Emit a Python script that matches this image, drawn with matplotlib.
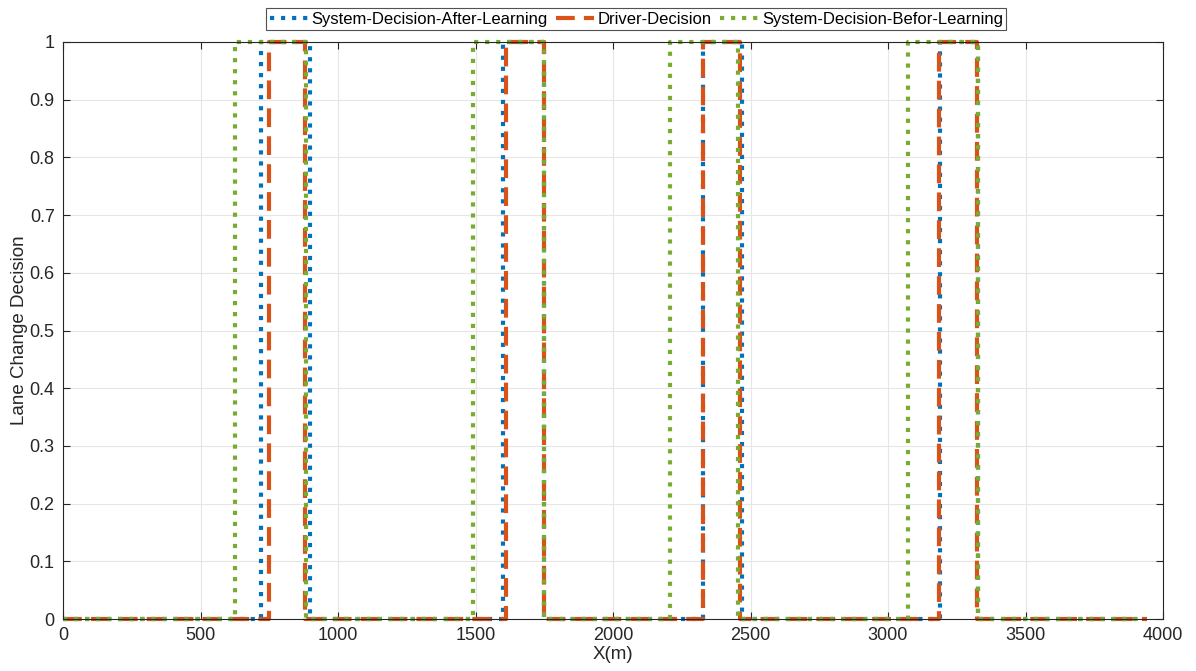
import numpy as np
import matplotlib
matplotlib.use('Agg')
import matplotlib.pyplot as plt

# step breakpoints (x in m) and decision values
x_after = [0, 720, 898, 1600, 1750, 2327, 2469, 3190, 3327, 3900]
y_after = [0, 1, 0, 1, 0, 1, 0, 1, 0, 0]

x_driver = [0, 750, 880, 1611, 1748, 2327, 2460, 3185, 3325, 3940]
y_driver = [0, 1, 0, 1, 0, 1, 0, 1, 0, 0]

x_before = [0, 625, 885, 1491, 1749, 2207, 2455, 3073, 3327, 3920]
y_before = [0, 1, 0, 1, 0, 1, 0, 1, 0, 0]

labels = ['System-Decision-After-Learning', 'Driver-Decision',
          'System-Decision-Befor-Learning']
colors = ['#0072BD', '#D95319', '#77AC30']

plt.rcParams['font.family'] = ['Liberation Sans', 'DejaVu Sans']

fig = plt.figure(figsize=(11.96, 6.71), dpi=100)
ax = fig.add_axes([63 / 1196, 52 / 671, 1100 / 1196, 577 / 671])

ax.plot(x_after, y_after, ':', drawstyle='steps-post', color=colors[0],
        lw=3, label=labels[0], clip_on=False)
ax.plot(x_driver, y_driver, '--', drawstyle='steps-post', color=colors[1],
        lw=3, label=labels[1], clip_on=False, dashes=(4.5, 2.2))
ax.plot(x_before, y_before, ':', drawstyle='steps-post', color=colors[2],
        lw=3, label=labels[2], clip_on=False)

ax.set_xlim(0, 4000)
ax.set_ylim(0, 1)
ax.set_xticks(np.arange(0, 4001, 500))
ax.set_yticks(np.arange(0, 1.01, 0.1))
ax.set_yticklabels(['0', '0.1', '0.2', '0.3', '0.4', '0.5', '0.6', '0.7',
                    '0.8', '0.9', '1'])
ax.grid(True, color='#e6e6e6', lw=0.8)
ax.set_axisbelow(True)
ax.tick_params(direction='in', top=True, right=True, labelsize=13,
               colors='#262626', length=5, pad=6)
for s in ax.spines.values():
    s.set_color('#262626')
    s.set_linewidth(0.8)

ax.set_xlabel('X(m)', fontsize=13.5, color='#262626', labelpad=1)
ax.set_ylabel('Lane Change Decision', fontsize=13.5, color='#262626',
              labelpad=1)

leg = fig.legend(loc='upper center', bbox_to_anchor=(0.532, 1.0), ncol=3,
                 fontsize=12, frameon=True, fancybox=False,
                 handlelength=2.3, handletextpad=0.2, columnspacing=0.5,
                 borderpad=0.2, edgecolor='#262626')
leg.get_frame().set_linewidth(0.8)

fig.savefig('out.png', dpi=100)
